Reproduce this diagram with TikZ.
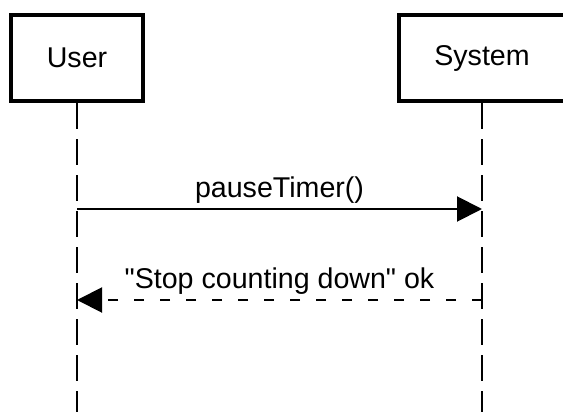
\documentclass[tikz,border=0pt]{standalone}
\usepackage{fontspec}
\setmainfont{Liberation Sans}[Ligatures=TeXOff]
\usetikzlibrary{arrows.meta}
\begin{document}
\begin{tikzpicture}[x=0.5pt,y=-0.5pt,
  txt/.style={font=\fontsize{14.3pt}{17pt}\selectfont},
  actor/.style={txt, draw, line width=2pt, minimum height=43pt, inner sep=0pt},
  lifeline/.style={line width=1pt, dash pattern=on 13pt off 5pt},
  msg/.style={line width=1pt, -{Triangle[length=12.5pt,width=12.5pt]}},
  reply/.style={msg, dash pattern=on 5pt off 8pt},
  lbl/.style={txt, midway, anchor=base, yshift=6pt, inner sep=0pt}]
\useasboundingbox (0,0) rectangle (563,412);
\clip (0,0) rectangle (563,412);
\node[actor, minimum width=66pt] (user) at (77,58) {User};
\node[actor, minimum width=83pt] (sys) at (482,58) {System};
\coordinate (userEnd) at (77,412);
\coordinate (sysEnd) at (482,412);
\draw[lifeline] (user.south) -- (userEnd);
\draw[lifeline] (sys.south) -- (sysEnd);
\coordinate (u1) at (77,209);
\coordinate (s1) at (482,209);
\coordinate (u2) at (77,300);
\coordinate (s2) at (482,300);
\draw[msg] (u1) -- (s1) node[lbl] {pauseTimer()};
\draw[reply] (s2) -- (u2) node[lbl] {"Stop counting down" ok};
\end{tikzpicture}
\end{document}
